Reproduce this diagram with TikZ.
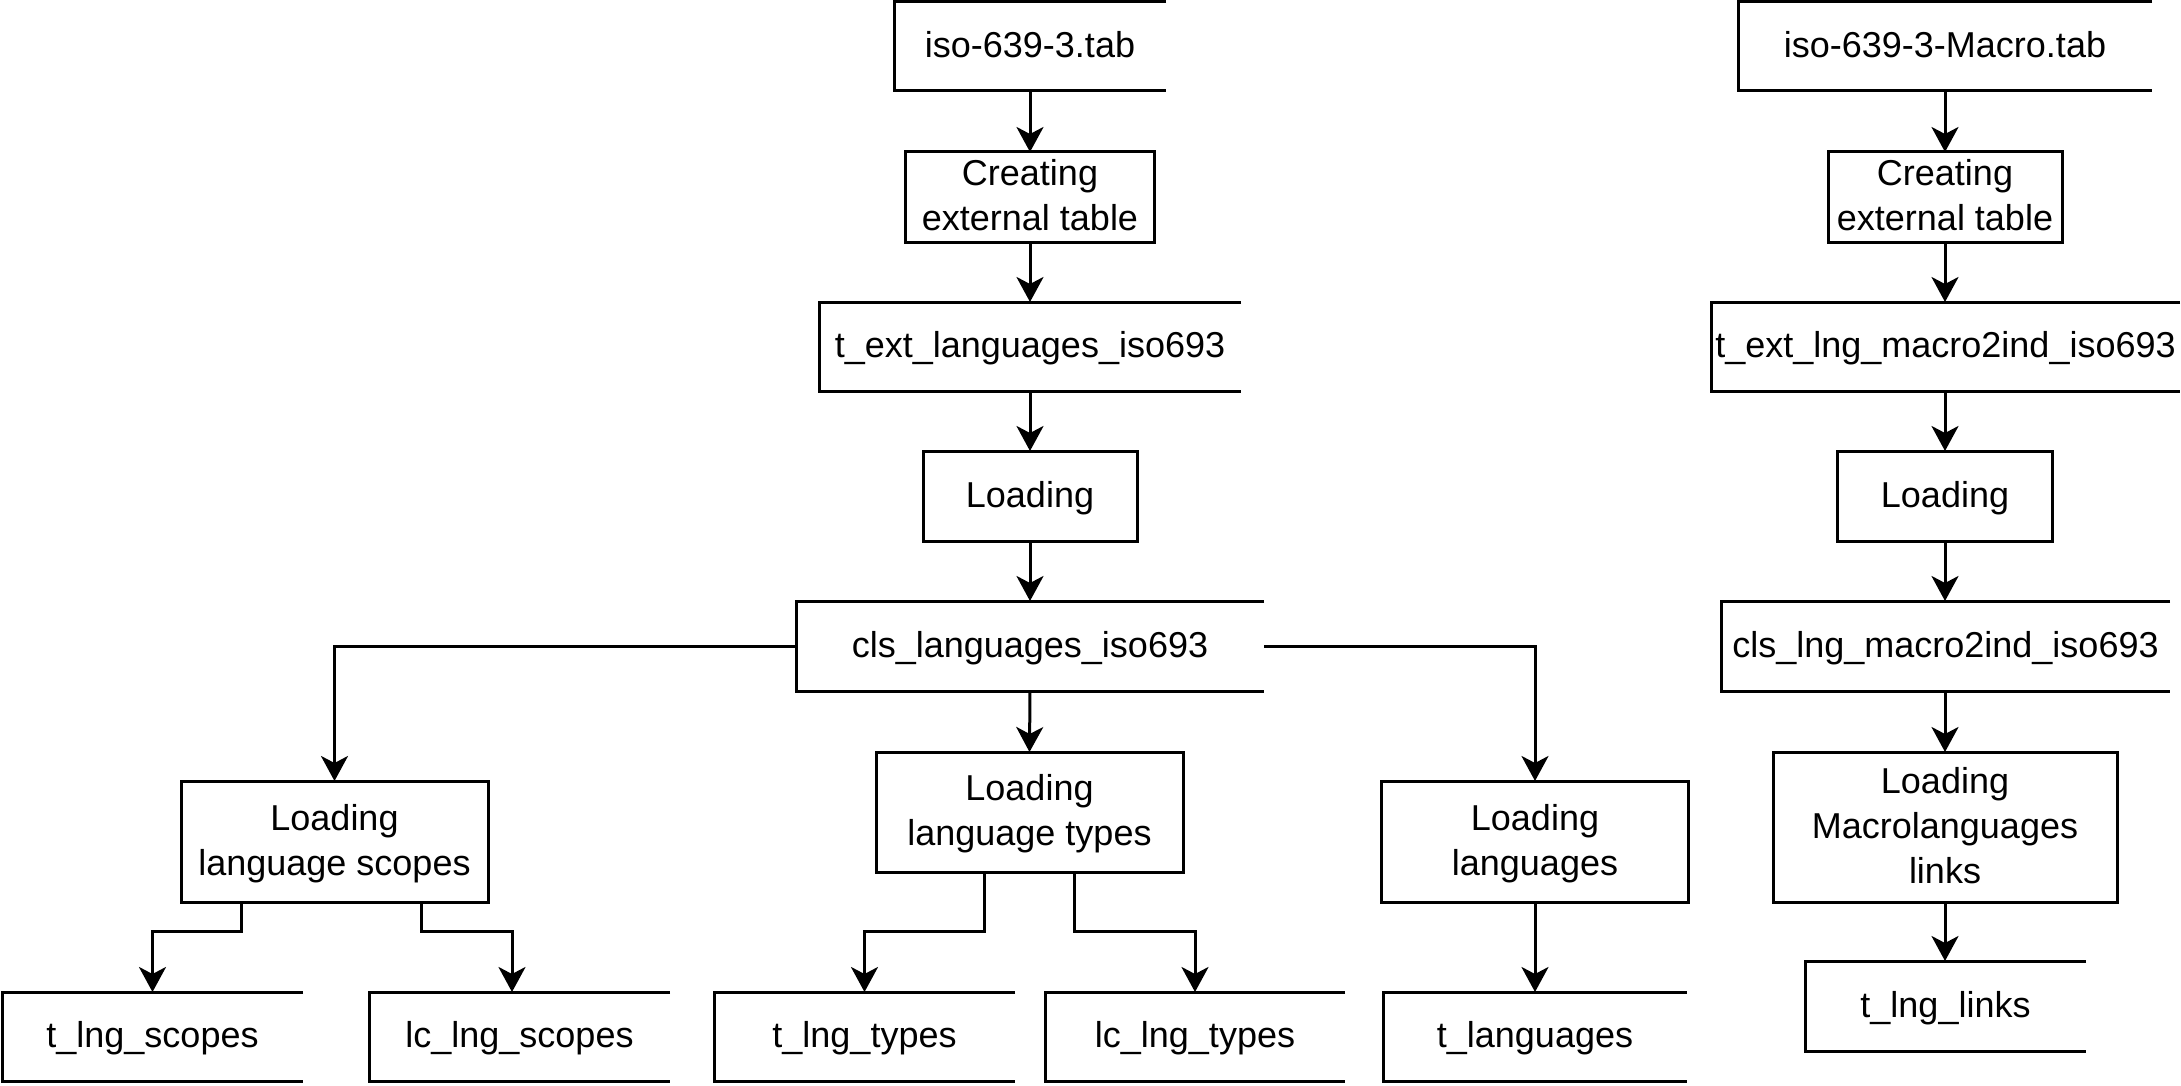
\documentclass[tikz,border=0pt]{standalone}
\usepackage{fontspec}
\setmainfont{Liberation Sans}
\usetikzlibrary{arrows.meta}
\newcommand\st{\rule[-5.6pt]{0pt}{22.5pt}}
\begin{document}
\begin{tikzpicture}[x=0.5pt,y=-0.5pt,
  base/.style={inner sep=0pt, outer sep=0pt, align=center, font=\fontsize{18}{22.5}\selectfont, line width=1.5pt},
  proc/.style={base, draw},
  store/.style={base},
  openedge/.style={line width=1.5pt},
  arr/.style={line width=1.5pt, -{Stealth[length=12.5pt,width=13.5pt,inset=3.5pt]}}
]
\useasboundingbox (0,0) rectangle (2181,1086);

% left/middle column
\node[store, minimum width=136pt, minimum height=44.5pt] (src1) at (1030,46.5) {\st iso-639-3.tab\st};
\node[proc, minimum width=124.5pt, minimum height=45pt] (cr1) at (1030,197) {\st Creating\\external table\st};
\node[store, minimum width=211pt, minimum height=44.5pt] (ext1) at (1030,346.5) {\st t\_ext\_languages\_iso693\st};
\node[proc, minimum width=107pt, minimum height=45pt] (ld1) at (1030,496) {\st Loading\st};
\node[store, minimum width=234pt, minimum height=45pt] (cls1) at (1030,646) {\st cls\_languages\_iso693\st};
\node[proc, minimum width=153.5pt, minimum height=60.5pt] (lsc) at (334.5,841.5) {\st Loading\\language scopes\st};
\node[store, minimum width=150.5pt, minimum height=44.5pt] (tsc) at (152.5,1036.5) {\st t\_lng\_scopes\st};
\node[store, minimum width=150.5pt, minimum height=44.5pt] (lcsc) at (519.5,1036.5) {\st lc\_lng\_scopes\st};
\node[proc, minimum width=153.5pt, minimum height=60pt] (lty) at (1029.5,812) {\st Loading\\language types\st};
\node[store, minimum width=150.5pt, minimum height=44.5pt] (tty) at (864.5,1036.5) {\st t\_lng\_types\st};
\node[store, minimum width=150pt, minimum height=44.5pt] (lcty) at (1195,1036.5) {\st lc\_lng\_types\st};
\node[proc, minimum width=153.5pt, minimum height=60.5pt] (llg) at (1535,841.5) {\st Loading\\languages\st};
\node[store, minimum width=151.5pt, minimum height=44.5pt] (tlg) at (1535,1036.5) {\st t\_languages\st};

% right column
\node[store, minimum width=207pt, minimum height=44.5pt] (src2) at (1945,46.5) {\st iso-639-3-Macro.tab\st};
\node[proc, minimum width=117pt, minimum height=45pt] (cr2) at (1945,197) {\st Creating\\external table\st};
\node[store, minimum width=234.5pt, minimum height=44.5pt] (ext2) at (1945.5,346.5) {\st t\_ext\_lng\_macro2ind\_iso693\st};
\node[proc, minimum width=107.5pt, minimum height=45pt] (ld2) at (1945,496) {\st Loading\st};
\node[store, minimum width=224.5pt, minimum height=45pt] (cls2) at (1945.5,646) {\st cls\_lng\_macro2ind\_iso693\st};
\node[proc, minimum width=172pt, minimum height=75pt] (lml) at (1945,827) {\st Loading\\Macrolanguages\\links\st};
\node[store, minimum width=140.5pt, minimum height=45pt] (tlk) at (1945.5,1006) {\st t\_lng\_links\st};

% open-right data store outlines
\foreach \n in {src1,ext1,cls1,tsc,lcsc,tty,lcty,tlg,src2,ext2,cls2,tlk}{
  \draw[openedge] (\n.north east) -- (\n.north west) -- (\n.south west) -- (\n.south east);
}

% connectors
\draw[arr] (src1.south) -- (cr1.north);
\draw[arr] (cr1.south) -- (ext1.north);
\draw[arr] (ext1.south) -- (ld1.north);
\draw[arr] (ld1.south) -- (cls1.north);
\draw[arr] (cls1.west) -| (lsc.north);
\draw[arr] (cls1.south) -- (lty.north);
\draw[arr] (cls1.east) -| (llg.north);
\draw[arr] ([xshift=-46.5pt]lsc.south) -- ++(0,29) -| (tsc.north);
\draw[arr] ([xshift=43.25pt]lsc.south) -- ++(0,29) -| ([xshift=-3.75pt]lcsc.north);
\draw[arr] ([xshift=-22.75pt]lty.south) -- ++(0,59) -| (tty.north);
\draw[arr] ([xshift=22.25pt]lty.south) -- ++(0,59) -| (lcty.north);
\draw[arr] (llg.south) -- (tlg.north);

\draw[arr] (src2.south) -- (cr2.north);
\draw[arr] (cr2.south) -- (ext2.north -| cr2.south);
\draw[arr] (ext2.south -| ld2.north) -- (ld2.north);
\draw[arr] (ld2.south) -- (cls2.north -| ld2.south);
\draw[arr] (cls2.south -| lml.north) -- (lml.north);
\draw[arr] (lml.south) -- (tlk.north -| lml.south);
\end{tikzpicture}
\end{document}
